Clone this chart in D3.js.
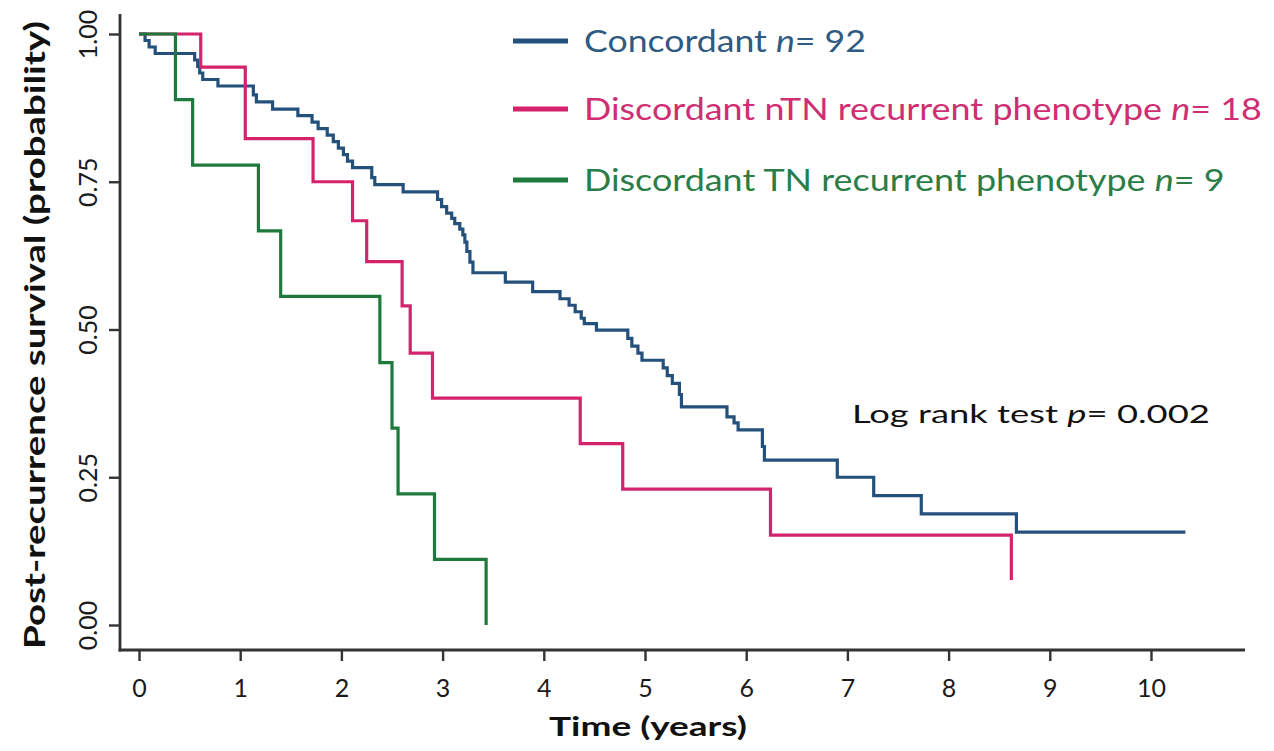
<!DOCTYPE html>
<html>
<head>
<meta charset="utf-8">
<script src="https://cdn.jsdelivr.net/npm/d3@7"></script>
<style>
  html, body { margin: 0; padding: 0; background: #fff; }
  svg { display: block; font-family: Lato, "Open Sans", sans-serif; }
</style>
</head>
<body>
<svg id="chart" width="1274" height="751"></svg>
<script>
// Kaplan–Meier post-recurrence survival by receptor-phenotype concordance.
// Each series: event times (years) and the survival probability after each step.

const concordantTime = [0, 0.06, 0.10, 0.16, 0.55, 0.58, 0.60, 0.63, 0.78, 1.13, 1.16, 1.32, 1.57, 1.71, 1.77,
  1.86, 1.92, 1.97, 2.02, 2.06, 2.11, 2.30, 2.33, 2.61, 2.95, 2.99, 3.04, 3.09, 3.12, 3.17, 3.20, 3.22, 3.24,
  3.27, 3.30, 3.62, 3.89, 4.16, 4.25, 4.31, 4.37, 4.40, 4.52, 4.83, 4.87, 4.93, 4.97, 5.18, 5.22, 5.27, 5.34,
  5.36, 5.81, 5.88, 5.92, 6.16, 6.18, 6.90, 7.26, 7.73, 8.67, 10.34];
const concordantSurv = [1, 0.989, 0.978, 0.967, 0.956, 0.945, 0.934, 0.923, 0.912, 0.897, 0.885, 0.873, 0.862, 0.851, 0.840,
  0.829, 0.818, 0.807, 0.796, 0.785, 0.774, 0.757, 0.745, 0.733, 0.720, 0.708, 0.697, 0.688, 0.679, 0.670, 0.660, 0.648, 0.632,
  0.614, 0.596, 0.580, 0.564, 0.552, 0.541, 0.530, 0.519, 0.510, 0.499, 0.485, 0.472, 0.460, 0.448, 0.435, 0.422, 0.409, 0.390,
  0.369, 0.352, 0.342, 0.330, 0.302, 0.279, 0.250, 0.219, 0.188, 0.157, 0.157];

const ntnTime = [0, 0.61, 1.05, 1.72, 2.11, 2.25, 2.60, 2.68, 2.90, 4.36, 4.78, 6.24, 8.62];
const ntnSurv = [1, 0.944, 0.823, 0.750, 0.684, 0.615, 0.540, 0.460, 0.384, 0.307, 0.230, 0.152, 0.076];

const tnTime = [0, 0.36, 0.53, 1.18, 1.40, 2.38, 2.50, 2.56, 2.92, 3.43];
const tnSurv = [1, 0.889, 0.778, 0.667, 0.556, 0.444, 0.333, 0.222, 0.111, 0];

const xTicks = [0, 1, 2, 3, 4, 5, 6, 7, 8, 9, 10];
const yTicks = [0, 0.25, 0.5, 0.75, 1];

const seriesNames = ["Concordant", "Discordant nTN recurrent phenotype", "Discordant TN recurrent phenotype"];
const seriesN = [92, 18, 9];
const seriesColors = ["#24507c", "#d5226c", "#1d7a3c"];
const legendTextColors = ["#2f5a82", "#cf2e72", "#2b7d48"];

const svg = d3.select("#chart");

const x = d3.scaleLinear().domain([0, 10]).range([139, 1151]);
const y = d3.scaleLinear().domain([0, 1]).range([625, 34]);

const axisY = 650, axisX = 120;

// Fit a text element horizontally to a target width
function fitWidth(sel, target) {
  sel.each(function () {
    const w = this.getComputedTextLength();
    const tx = +this.getAttribute("data-x"), ty = +this.getAttribute("data-y");
    const rot = this.getAttribute("data-rot");
    if (rot) {
      this.setAttribute("transform", `translate(${tx},${ty}) rotate(${rot}) scale(${target / w},1)`);
    } else {
      this.setAttribute("transform", `translate(${tx},${ty}) scale(${target / w},1)`);
    }
  });
}

// Axis lines
svg.append("line").attr("x1", axisX).attr("x2", axisX).attr("y1", 14).attr("y2", axisY + 1.5)
  .attr("stroke", "#333").attr("stroke-width", 2.8);
svg.append("line").attr("x1", axisX - 1.4).attr("x2", 1245).attr("y1", axisY).attr("y2", axisY)
  .attr("stroke", "#333").attr("stroke-width", 3.2);

// X axis ticks and labels
const gx = svg.append("g").attr("transform", `translate(0,${axisY})`)
  .call(d3.axisBottom(x).tickValues(xTicks).tickSize(11).tickPadding(18).tickFormat(d3.format("d")));
gx.select(".domain").remove();
gx.selectAll(".tick line").attr("stroke", "#333").attr("stroke-width", 2.4);
gx.selectAll(".tick text").attr("fill", "#1a1a1a").attr("font-size", 25).attr("font-family", "Lato");

// Y axis ticks and rotated labels
const gy = svg.append("g").attr("transform", `translate(${axisX},0)`)
  .call(d3.axisLeft(y).tickValues(yTicks).tickSize(11).tickFormat(d3.format(".2f")));
gy.select(".domain").remove();
gy.selectAll(".tick line").attr("stroke", "#333").attr("stroke-width", 2.4);
gy.selectAll(".tick text")
  .attr("x", null).attr("dy", null)
  .attr("text-anchor", "middle")
  .attr("transform", "translate(-23,0) rotate(-90)")
  .attr("fill", "#1a1a1a").attr("font-size", 25).attr("font-family", "Lato");

// Axis titles
svg.append("text")
  .attr("data-x", 648).attr("data-y", 736)
  .attr("text-anchor", "middle").attr("font-weight", "bold").attr("font-size", 27)
  .attr("fill", "#111").text("Time (years)")
  .call(fitWidth, 198);

svg.append("text")
  .attr("data-x", 45).attr("data-y", 335).attr("data-rot", -90)
  .attr("text-anchor", "middle").attr("font-weight", "bold").attr("font-size", 28)
  .attr("fill", "#111").text("Post-recurrence survival (probability)")
  .call(fitWidth, 628);

// Survival step curves
const line = d3.line()
  .x(d => x(d[0]))
  .y(d => y(d[1]))
  .curve(d3.curveStepAfter);

const curves = [
  d3.zip(concordantTime, concordantSurv),
  d3.zip(ntnTime, ntnSurv),
  d3.zip(tnTime, tnSurv)
];

svg.append("g").selectAll("path")
  .data(curves)
  .join("path")
  .attr("d", line)
  .attr("fill", "none")
  .attr("stroke", (d, i) => seriesColors[i])
  .attr("stroke-width", 3.2)
  .attr("stroke-linejoin", "miter");

// Legend
const legendY = [41, 109, 180];
const legendWidths = [282, 678, 641];
const legend = svg.append("g");
seriesNames.forEach((name, i) => {
  legend.append("line")
    .attr("x1", 513).attr("x2", 568)
    .attr("y1", legendY[i]).attr("y2", legendY[i])
    .attr("stroke", seriesColors[i]).attr("stroke-width", 5);
  const t = legend.append("text")
    .attr("data-x", 584).attr("data-y", legendY[i] + 11)
    .attr("font-size", 30).attr("fill", legendTextColors[i]);
  t.append("tspan").text(name + " ");
  t.append("tspan").attr("font-style", "italic").text("n");
  t.append("tspan").text("= " + seriesN[i]);
  t.call(fitWidth, legendWidths[i]);
});

// Log-rank annotation
const lr = svg.append("text")
  .attr("data-x", 852).attr("data-y", 423)
  .attr("font-size", 26).attr("fill", "#111");
lr.append("tspan").text("Log rank test ");
lr.append("tspan").attr("font-style", "italic").text("p");
lr.append("tspan").text("= 0.002");
lr.call(fitWidth, 358);
</script>
</body>
</html>
